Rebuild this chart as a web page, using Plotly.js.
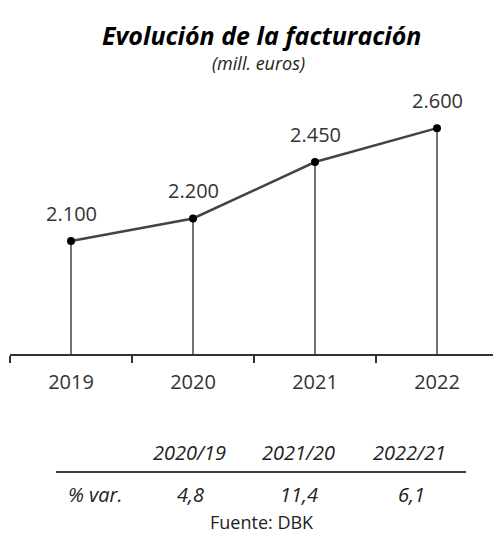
<!DOCTYPE html>
<html>
<head>
<meta charset="utf-8">
<script src="https://cdn.plot.ly/plotly-3.0.1.min.js"></script>
<style>
html,body{margin:0;padding:0;overflow:hidden;background:#fff;width:493px;height:540px;}
#chart{width:498px;height:540px;}
</style>
</head>
<body>
<div id="chart"></div>
<script>
var years = ['2019', '2020', '2021', '2022'];
var revenue = [2100, 2200, 2450, 2600];
var periods = ['2020/19', '2021/20', '2022/21'];
var pctVar = ['4,8', '11,4', '6,1'];
var rowLabel = '% var.';
var titleText = 'Evolución de la facturación';
var subtitleText = '(mill. euros)';
var sourceText = 'Fuente: DBK';

var FONT = '"Open Sans", sans-serif';
var baseVal = 1600;

function fmt(v) {
  return String(v).replace(/\B(?=(\d{3})+(?!\d))/g, '.');
}

// drop lines from each point to the axis
var dropX = [], dropY = [];
years.forEach(function (y, i) {
  dropX.push(y, y, null);
  dropY.push(baseVal, revenue[i], null);
});

var traces = [
  {
    x: dropX, y: dropY, type: 'scatter', mode: 'lines',
    line: {color: '#444', width: 1.5}, hoverinfo: 'skip', showlegend: false
  },
  {
    x: years, y: revenue, type: 'scatter', mode: 'lines+markers',
    line: {color: '#444', width: 2.5},
    marker: {color: '#000', size: 8},
    showlegend: false
  }
];

var W = 488, H = 271; // plot area size
function px(x) { return (x - 10) / W; }
function py(y) { return (354 - y) / H; }

var annotations = [];
years.forEach(function (y, i) {
  annotations.push({
    x: i, y: revenue[i], xref: 'x', yref: 'y', text: fmt(revenue[i]),
    xanchor: 'center', yanchor: 'middle',
    showarrow: false, yshift: 28, font: {family: FONT, size: 20, color: '#333'}
  });
});
function paperNote(x, y, text, size, color) {
  annotations.push({
    x: px(x), y: py(y), xref: 'paper', yref: 'paper', text: text,
    xanchor: 'center', yanchor: 'middle', showarrow: false,
    font: {family: FONT, size: size, color: color}
  });
}
paperNote(261, 35, '<b><i>' + titleText + '</i></b>', 25, '#000');
paperNote(258, 63, '<i>' + subtitleText + '</i>', 18, '#222');
var colX = [189, 298, 409];
var valX = [190, 299, 411];
periods.forEach(function (p, i) {
  paperNote(colX[i], 452, '<i>' + p + '</i>', 20, '#222');
  paperNote(valX[i], 494, '<i>' + pctVar[i] + '</i>', 20, '#222');
});
paperNote(95, 494, '<i>' + rowLabel + '</i>', 20, '#222');
paperNote(262, 522, sourceText, 18, '#222');

var layout = {
  width: 498, height: 540,
  margin: {l: 10, r: 0, t: 83, b: 186},
  paper_bgcolor: '#fff', plot_bgcolor: '#fff',
  showlegend: false,
  xaxis: {
    type: 'category', range: [-0.5, 3.5], fixedrange: true,
    showline: true, linecolor: '#333', linewidth: 1.5,
    ticks: 'outside', tickson: 'boundaries', ticklen: 7, tickcolor: '#333', tickwidth: 1.5,
    ticklabelstandoff: 9,
    showgrid: false, zeroline: false,
    tickfont: {family: FONT, size: 20, color: '#333'}
  },
  yaxis: {
    range: [baseVal, 2800], visible: false, showgrid: false, zeroline: false, fixedrange: true
  },
  shapes: [{
    type: 'line', xref: 'paper', yref: 'paper',
    x0: px(56), x1: px(466), y0: py(472), y1: py(472),
    line: {color: '#000', width: 1.5}
  }],
  annotations: annotations
};

Plotly.newPlot('chart', traces, layout, {displayModeBar: false, staticPlot: true});
</script>
</body>
</html>
